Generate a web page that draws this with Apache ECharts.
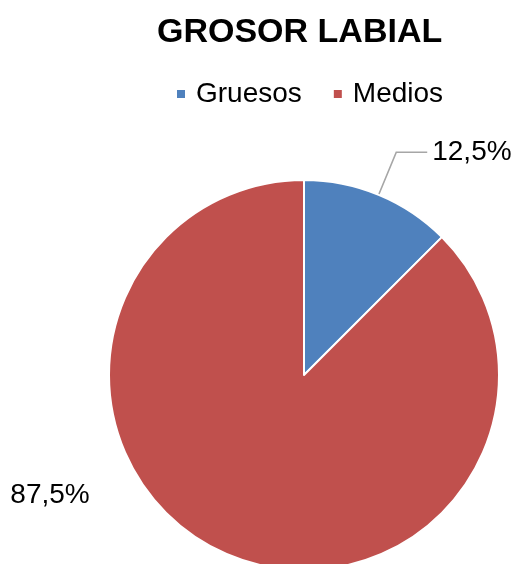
<!DOCTYPE html>
<html>
<head>
<meta charset="utf-8">
<script src="https://cdn.jsdelivr.net/npm/echarts@6/dist/echarts.min.js"></script>
<style>
  html, body { margin: 0; padding: 0; background: #fff; }
  #chart { width: 516px; height: 564px; }
</style>
</head>
<body>
<div id="chart"></div>
<script>
  // data
  var categories = ["Gruesos", "Medios"];
  var values = [12.5, 87.5];
  var colors = ["#4F81BD", "#C0504D"];

  var FONT = "'Liberation Sans', Arial, sans-serif";

  function fmt(v) { return v.toFixed(1).replace(".", ",") + "%"; }

  var pieData = categories.map(function (name, i) {
    var item = { name: name, value: values[i], itemStyle: { color: colors[i] } };
    if (i === 1) item.labelLine = { show: false };
    return item;
  });

  var chart = echarts.init(document.getElementById("chart"));
  chart.setOption({
    animation: false,
    title: {
      text: "GROSOR LABIAL",
      left: 157, top: 16, padding: 0,
      textStyle: { fontFamily: FONT, fontSize: 34, fontWeight: "bold", color: "#000" }
    },
    legend: {
      data: categories,
      left: 175, top: 80, padding: 0,
      icon: "rect", itemWidth: 10, itemHeight: 10, itemGap: 30,
      textStyle: { fontFamily: FONT, fontSize: 28, color: "#000", padding: [0, 0, 0, 5] }
    },
    series: [{
      type: "pie",
      center: [304, 375],
      radius: 195,
      startAngle: 90,
      clockwise: true,
      data: pieData,
      itemStyle: { borderColor: "#fff", borderWidth: 2 },
      label: {
        show: true,
        position: "outside",
        formatter: function (p) { return fmt(p.value); },
        fontFamily: FONT, fontSize: 28, color: "#000",
        overflow: "none",
        edgeDistance: 0,
        padding: [0, 0, 20, 0]
      },
      labelLine: {
        show: true, length: 46, length2: 31,
        lineStyle: { color: "#A6A6A6", width: 1.5 }
      },
      labelLayout: function (p) {
        if (p.dataIndex === 1) {
          return { x: 50, y: 495, align: "center", verticalAlign: "middle" };
        }
        return {};
      },
      emphasis: { disabled: true }
    }]
  });
</script>
</body>
</html>
